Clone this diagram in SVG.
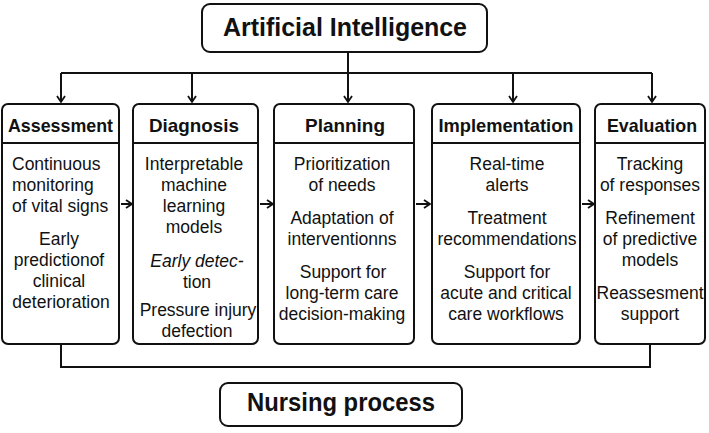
<svg xmlns="http://www.w3.org/2000/svg" width="709" height="433" viewBox="0 0 709 433">
<style>
.box{fill:#fff;stroke:#111;stroke-width:2}
.ln{fill:none;stroke:#111;stroke-width:2}
.t{font-family:"Liberation Sans",Arial,sans-serif;fill:#111}
.title{font-size:26px;font-weight:bold;text-anchor:middle}
.hd{font-size:19px;font-weight:bold;text-anchor:middle}
.b{font-size:17.5px;text-anchor:middle}
.bl{font-size:17.5px}
</style>
<defs>
<marker id="ar" markerWidth="10" markerHeight="10" refX="8" refY="5" orient="auto" markerUnits="userSpaceOnUse">
<path d="M2,1 L8,5 L2,9" fill="none" stroke="#111" stroke-width="1.8"/>
</marker>
</defs>
<rect width="709" height="433" fill="#fff"/>
<g id="connectors">
<line class="ln" x1="348" y1="52" x2="348" y2="102" marker-end="url(#ar)"/>
<line class="ln" x1="61" y1="73" x2="652" y2="73"/>
<line class="ln" x1="61" y1="73" x2="61" y2="102" marker-end="url(#ar)"/>
<line class="ln" x1="192" y1="73" x2="192" y2="102" marker-end="url(#ar)"/>
<line class="ln" x1="513" y1="73" x2="513" y2="102" marker-end="url(#ar)"/>
<line class="ln" x1="652" y1="73" x2="652" y2="102" marker-end="url(#ar)"/>
<line class="ln" x1="121" y1="204" x2="132" y2="204" marker-end="url(#ar)"/>
<line class="ln" x1="260" y1="204" x2="273" y2="204" marker-end="url(#ar)"/>
<line class="ln" x1="416" y1="204" x2="430" y2="204" marker-end="url(#ar)"/>
<line class="ln" x1="582" y1="204" x2="594" y2="204" marker-end="url(#ar)"/>
<polyline class="ln" points="61,344 61,367 650,367 650,344"/>
</g>
<g id="ai">
<rect class="box" x="202" y="4" width="285" height="48" rx="8"/>
<text class="t title" x="345" y="36" textLength="244" lengthAdjust="spacingAndGlyphs">Artificial Intelligence</text>
</g>
<g id="assessment">
<rect class="box" x="2" y="104" width="117" height="240" rx="6"/>
<line class="ln" x1="2" y1="143" x2="119" y2="143"/>
<text class="t hd" x="60.5" y="132" textLength="105" lengthAdjust="spacingAndGlyphs">Assessment</text>
<text class="t bl" x="12" y="170">Continuous</text>
<text class="t bl" x="12" y="191">monitoring</text>
<text class="t bl" x="12" y="212">of vital signs</text>
<text class="t b" x="59" y="245">Early</text>
<text class="t b" x="59" y="266">predictionof</text>
<text class="t b" x="59" y="287">clinical</text>
<text class="t b" x="61" y="308">deterioration</text>
</g>
<g id="diagnosis">
<rect class="box" x="133" y="104" width="125" height="240" rx="6"/>
<line class="ln" x1="133" y1="143" x2="258" y2="143"/>
<text class="t hd" x="194" y="132" textLength="90" lengthAdjust="spacingAndGlyphs">Diagnosis</text>
<text class="t b" x="194" y="170">Interpretable</text>
<text class="t b" x="194" y="191">machine</text>
<text class="t b" x="194" y="212">learning</text>
<text class="t b" x="194" y="233">models</text>
<text class="t b" x="197" y="267" font-style="italic">Early detec-</text>
<text class="t b" x="197" y="288">tion</text>
<text class="t b" x="198" y="316">Pressure injury</text>
<text class="t b" x="197" y="337">defection</text>
</g>
<g id="planning">
<rect class="box" x="274" y="104" width="140" height="240" rx="6"/>
<line class="ln" x1="274" y1="143" x2="414" y2="143"/>
<text class="t hd" x="345" y="132" textLength="80" lengthAdjust="spacingAndGlyphs">Planning</text>
<text class="t b" x="342" y="170">Prioritization</text>
<text class="t b" x="342" y="191">of needs</text>
<text class="t b" x="342" y="224">Adaptation of</text>
<text class="t b" x="342" y="245">interventionns</text>
<text class="t b" x="343" y="278">Support for</text>
<text class="t b" x="342" y="299">long-term care</text>
<text class="t b" x="342" y="320">decision-making</text>
</g>
<g id="implementation">
<rect class="box" x="432" y="104" width="148" height="240" rx="6"/>
<line class="ln" x1="432" y1="143" x2="580" y2="143"/>
<text class="t hd" x="506" y="132" textLength="135" lengthAdjust="spacingAndGlyphs">Implementation</text>
<text class="t b" x="507" y="170">Real-time</text>
<text class="t b" x="507" y="191">alerts</text>
<text class="t b" x="507" y="224">Treatment</text>
<text class="t b" x="507" y="245">recommendations</text>
<text class="t b" x="507" y="278">Support for</text>
<text class="t b" x="506" y="299">acute and critical</text>
<text class="t b" x="506" y="320">care workflows</text>
</g>
<g id="evaluation">
<rect class="box" x="595" y="104" width="110" height="240" rx="6"/>
<line class="ln" x1="595" y1="143" x2="705" y2="143"/>
<text class="t hd" x="652" y="132" textLength="90" lengthAdjust="spacingAndGlyphs">Evaluation</text>
<text class="t b" x="650" y="170">Tracking</text>
<text class="t b" x="650" y="191">of responses</text>
<text class="t b" x="650" y="224">Refinement</text>
<text class="t b" x="650" y="245">of predictive</text>
<text class="t b" x="650" y="266">models</text>
<text class="t b" x="650" y="299">Reassesment</text>
<text class="t b" x="650" y="320">support</text>
</g>
<g id="nursing">
<rect class="box" x="220" y="383" width="242" height="43" rx="8"/>
<text class="t title" x="341" y="411" textLength="188" lengthAdjust="spacingAndGlyphs">Nursing process</text>
</g>
</svg>
